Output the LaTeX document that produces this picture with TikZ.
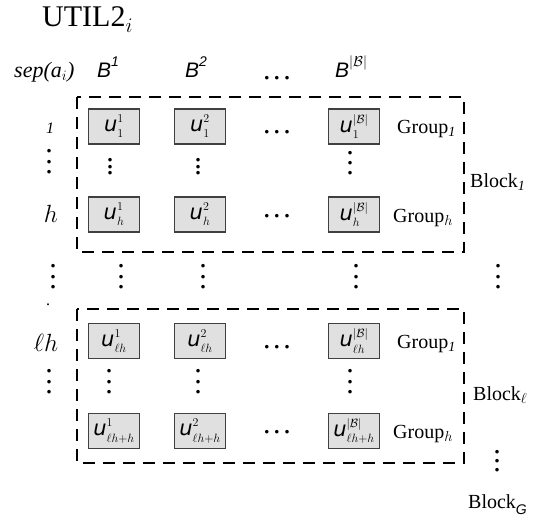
\documentclass[tikz,border=0pt]{standalone}
\usepackage{fontspec}
\setmainfont{Liberation Serif}
\newfontfamily\sansfam{Liberation Sans}
\newfontfamily\dvfam{DejaVu Sans}
\newcommand\myvd[1]{\vbox{\baselineskip=#1pt\lineskiplimit=-20pt\hbox{.}\hbox{.}\hbox{.}}}
\newcommand\myhd{.\kern2.6pt.\kern2.6pt.}
\newcommand\uu[2]{$\mbox{\fontsize{21}{21}\selectfont\dvfam\itshape u}^{\scriptscriptstyle #1}_{\scriptscriptstyle #2}$}
\newcommand\hsup[1]{\raisebox{0.5em}{\fontsize{14}{14}\selectfont #1}}
\begin{document}
\begin{tikzpicture}[x=1pt,y=-1pt,
  ubox/.style={draw=black!75, fill=black!12, line width=1.1pt, minimum width=51pt,
    minimum height=35pt, inner sep=1pt, font=\fontsize{25}{25}\selectfont},
  blockbox/.style={draw=black, line width=2.6pt, dash pattern=on 12pt off 8pt},
  hdr/.style={anchor=base west, inner sep=0pt, font=\fontsize{21}{21}\selectfont\sansfam\itshape},
  lbl/.style={anchor=base west, inner sep=0pt, font=\fontsize{20}{20}\selectfont},
  dts/.style={inner sep=0pt, font=\fontsize{30}{30}\selectfont},
  rowlbl/.style={inner sep=0pt, font=\fontsize{24}{24}\selectfont}]
\useasboundingbox (0,0) rectangle (537,527);

% title and header
\node[anchor=base west, inner sep=0pt, font=\fontsize{30}{30}\selectfont] (title) at (42,27) {UTIL2$_i$};
\node[anchor=base west, inner sep=0pt, font=\fontsize{22}{22}\selectfont\itshape] (sep) at (14,77) {sep(a$_i$)};
\node[hdr] (hB1) at (97,77) {B\hsup{1}};
\node[hdr] (hB2) at (185,77) {B\hsup{2}};
\node[dts] (hdots) at (277,78) {\myhd};
\node[hdr] (hBB) at (335,77) {B\hsup{$|\mathcal{B}|$}};

% block rectangles
\draw[blockbox] (77,97) rectangle (464,252);
\draw[blockbox] (77,309) rectangle (464,463);

% block 1
\node[rowlbl, font=\fontsize{16}{16}\selectfont\itshape] (l1) at (50,128) {1};
\node[ubox] (u11) at (114,126.5) {\uu{1}{1}};
\node[ubox] (u12) at (200,126.5) {\uu{2}{1}};
\node[dts] (d1) at (277,132) {\myhd};
\node[ubox] (u1B) at (354,126.5) {\uu{|\mathcal{B}|}{1}};
\node[lbl] (g11) at (397,133) {Group$_{\mathit{1}}$};

\node[dts] (vl1) at (49,162) {\myvd{10.5}};
\node[dts] (vc11) at (110,167) {\myvd{6.5}};
\node[dts] (vc12) at (198,167) {\myvd{6.5}};
\node[dts] (vc1B) at (350,163) {\myvd{10}};

\node[rowlbl, anchor=base] (lh) at (51,222) {$h$};
\node[ubox] (uh1) at (114,214.5) {\uu{1}{h}};
\node[ubox] (uh2) at (200,214.5) {\uu{2}{h}};
\node[dts] (d2) at (277,216) {\myhd};
\node[ubox] (uhB) at (354,214.5) {\uu{|\mathcal{B}|}{h}};
\node[lbl] (g1h) at (393,222) {Group$_h$};
\node[lbl] (b1) at (470,187) {Block$_{\mathit{1}}$};

% between blocks
\node[dts] (m1) at (53,277) {\myvd{10.5}};
\node[dts] (m2) at (121,277) {\myvd{10.5}};
\node[dts] (m3) at (203,277) {\myvd{10.5}};
\node[dts] (m4) at (356,277) {\myvd{10.5}};
\node[dts] (m5) at (498,277) {\myvd{10.5}};
\node[inner sep=0pt, font=\fontsize{16}{16}\selectfont] (stray) at (48,305) {.};

% block l
\node[rowlbl, anchor=base] (ll) at (46,351) {$\ell h$};
\node[ubox] (ul1) at (114,341) {\uu{1}{\ell h}};
\node[ubox] (ul2) at (200,341) {\uu{2}{\ell h}};
\node[dts] (d3) at (277,347) {\myhd};
\node[ubox] (ulB) at (354,341) {\uu{|\mathcal{B}|}{\ell h}};
\node[lbl] (gl1) at (397,348) {Group$_{\mathit{1}}$};

\node[dts] (vl2) at (49,382) {\myvd{10.5}};
\node[dts] (vc21) at (109,382) {\myvd{10.5}};
\node[dts] (vc22) at (198,382) {\myvd{10.5}};
\node[dts] (vc2B) at (350,382) {\myvd{10.5}};

\node[ubox] (ulh1) at (114,431) {\uu{1}{\ell h+h}};
\node[ubox] (ulh2) at (200,431) {\uu{2}{\ell h+h}};
\node[dts] (d4) at (277,432) {\myhd};
\node[ubox] (ulhB) at (354,431) {\uu{|\mathcal{B}|}{\ell h+h}};
\node[lbl] (glh) at (393,438) {Group$_h$};
\node[lbl] (bl) at (473,400) {Block$_\ell$};

\node[dts] (vr) at (497,461) {\myvd{9}};
\node[lbl] (bG) at (468,508) {Block\raisebox{-0.3em}{\fontsize{14}{14}\selectfont\sansfam\itshape G}};
\end{tikzpicture}
\end{document}
